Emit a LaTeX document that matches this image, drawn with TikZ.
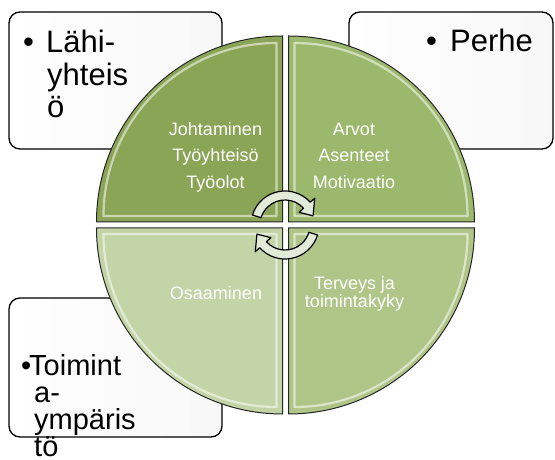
\documentclass[tikz,border=0pt]{standalone}
\usepackage{fontspec}
\setmainfont{Liberation Sans}
\usetikzlibrary{calc}
\definecolor{qtl}{RGB}{138,165,86}
\definecolor{qtr}{RGB}{155,184,108}
\definecolor{qbl}{RGB}{195,212,166}
\definecolor{qbr}{RGB}{176,198,136}
\definecolor{arrowfill}{RGB}{226,234,218}
\begin{document}
\begin{tikzpicture}[x=1pt,y=1pt,
  box/.style={draw=black, line width=1.3pt, rounded corners=11pt, left color=white, right color=black!3},
  quad/.style={draw=black!85, line width=1pt},
  bevel/.style={draw=white, opacity=0.55, line width=2.2pt, line join=round},
  bigtxt/.style={anchor=base west, inner sep=0pt, text depth=0pt, font=\fontsize{31}{31}\selectfont},
  intxt/.style={text=white, inner sep=0pt, anchor=base, font=\fontsize{18}{18}\selectfont},
  cyc/.style={draw=black, line width=1.2pt, fill=arrowfill, line join=round}]
\useasboundingbox (0,0) rectangle (555,460);
% outer boxes
\draw[box] (9,311) rectangle (222,448);
\draw[box] (349,311) rectangle (553,448);
\draw[box] (9,23) rectangle (222,162);
% box texts
\node[bigtxt] (b1) at (23,407) {•};
\node[bigtxt] (t1a) at (46,407) {Lähi-};
\node[bigtxt] (t1b) at (47,374) {yhteis};
\node[bigtxt] (t1c) at (47,342) {ö};
\node[bigtxt] (b2) at (426,408) {•};
\node[bigtxt] (t2) at (450,408) {Perhe};
\node[bigtxt, font=\fontsize{29}{29}\selectfont] (b3) at (21,84) {•};
\node[bigtxt, font=\fontsize{29}{29}\selectfont] (t3a) at (29,84) {Toimint};
\node[bigtxt, font=\fontsize{29}{29}\selectfont] (t3b) at (34,57) {a-};
\node[bigtxt, font=\fontsize{29}{29}\selectfont] (t3c) at (34,30.5) {ympäris};
\node[bigtxt, font=\fontsize{29}{29}\selectfont] (t3d) at (34,3) {tö};
% quadrants
\draw[quad, fill=qtl] (282.5,238) -- (96.5,238) arc[start angle=180, end angle=90, radius=186] -- cycle;
\draw[quad, fill=qtr] (288.5,238) -- (288.5,424) arc[start angle=90, end angle=0, radius=186] -- cycle;
\draw[quad, fill=qbl] (282.5,232) -- (282.5,46) arc[start angle=270, end angle=180, radius=186] -- cycle;
\draw[quad, fill=qbr] (288.5,232) -- (474.5,232) arc[start angle=0, end angle=-90, radius=186] -- cycle;
% bevel highlights
\draw[bevel] (276.5,244) -- (103.5,244) arc[start angle=180, end angle=90, radius=173] -- cycle;
\draw[bevel] (294.5,244) -- (294.5,417) arc[start angle=90, end angle=0, radius=173] -- cycle;
\draw[bevel] (276.5,226) -- (276.5,53) arc[start angle=270, end angle=180, radius=173] -- cycle;
\draw[bevel] (294.5,226) -- (467.5,226) arc[start angle=0, end angle=-90, radius=173] -- cycle;
% inner texts
\node[intxt] (q1a) at (215.5,324) {Johtaminen};
\node[intxt] (q1b) at (215.5,298) {Työyhteisö};
\node[intxt] (q1c) at (215.5,271) {Työolot};
\node[intxt] (q2a) at (354,324) {Arvot};
\node[intxt] (q2b) at (354,298) {Asenteet};
\node[intxt] (q2c) at (354,271) {Motivaatio};
\node[intxt] (q3) at (216,160) {Osaaminen};
\node[intxt] (q4a) at (354.5,170) {Terveys ja};
\node[intxt] (q4b) at (354.5,152) {toimintakyky};
% circular arrows
\coordinate (O) at (285,235);
\draw[cyc] ($(O)+(163:34)$) arc[start angle=163, end angle=42, radius=34]
  -- ($(O)+(42:40)$) -- ($(O)+(18:29.5)$) -- ($(O)+(42:19)$) -- ($(O)+(42:25)$)
  arc[start angle=42, end angle=163, radius=25] -- cycle;
\draw[cyc] ($(O)+(-17:34)$) arc[start angle=-17, end angle=-138, radius=34]
  -- ($(O)+(-138:40)$) -- ($(O)+(-162:29.5)$) -- ($(O)+(-138:19)$) -- ($(O)+(-138:25)$)
  arc[start angle=-138, end angle=-17, radius=25] -- cycle;
\end{tikzpicture}
\end{document}
